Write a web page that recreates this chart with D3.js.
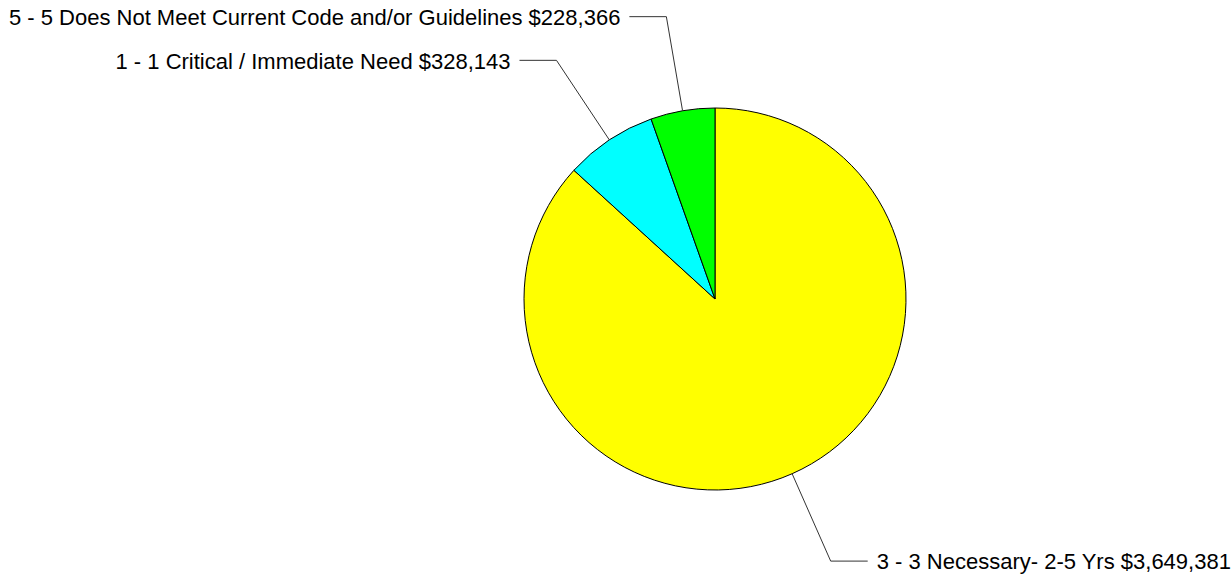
<!DOCTYPE html>
<html>
<head>
<meta charset="utf-8">
<script src="https://cdn.jsdelivr.net/npm/d3@7"></script>
<style>
  body { margin: 0; background: #fff; }
  svg { display: block; }
</style>
</head>
<body>
<div id="chart"></div>
<script>
// slice data, in drawing order (clockwise from 12 o'clock)
var categories = ['3 - 3 Necessary- 2-5 Yrs', '1 - 1 Critical / Immediate Need', '5 - 5 Does Not Meet Current Code and/or Guidelines'];
var amounts = [3649381, 328143, 228366];
var sliceColors = ['#ffff00', '#00ffff', '#00ff00'];

var width = 1232, height = 577;
var cx = 715, cy = 299, radius = 191;

var data = categories.map((c, i) => ({ name: c, value: amounts[i], color: sliceColors[i] }));
var money = d3.format('$,');

var svg = d3.select('#chart').append('svg')
    .attr('width', width)
    .attr('height', height);

var g = svg.append('g').attr('transform', 'translate(' + cx + ',' + cy + ')');

var pieGen = d3.pie().sort(null).value(d => d.value);
var arcGen = d3.arc().innerRadius(0).outerRadius(radius);
var arcs = pieGen(data);

g.selectAll('path.slice')
    .data(arcs)
    .join('path')
    .attr('class', 'slice')
    .attr('d', arcGen)
    .style('fill', d => d.data.color)
    .style('stroke', '#000')
    .style('stroke-width', 1);

// leader lines: radial out to 1.5r, then a short horizontal run
var outer = radius * 1.5, run = 37, gap = 9;
arcs.forEach(function(d) {
    var a = (d.startAngle + d.endAngle) / 2;
    var sx = Math.sin(a), sy = -Math.cos(a);
    var side = sx >= 0 ? 1 : -1;
    var p1 = [sx * radius, sy * radius];
    var p2 = [sx * outer, sy * outer];
    var p3 = [p2[0] + side * run, p2[1]];
    g.append('polyline')
        .attr('points', [p1, p2, p3].map(p => p.join(',')).join(' '))
        .style('fill', 'none')
        .style('stroke', '#333')
        .style('stroke-width', 1);
    g.append('text')
        .attr('x', p3[0] + side * gap)
        .attr('y', p3[1])
        .attr('dy', '0.38em')
        .attr('text-anchor', side > 0 ? 'start' : 'end')
        .style('font-family', 'Liberation Sans, Arial, sans-serif')
        .style('font-size', '22px')
        .style('fill', '#000')
        .text(d.data.name + ' ' + money(d.data.value));
});
</script>
</body>
</html>
